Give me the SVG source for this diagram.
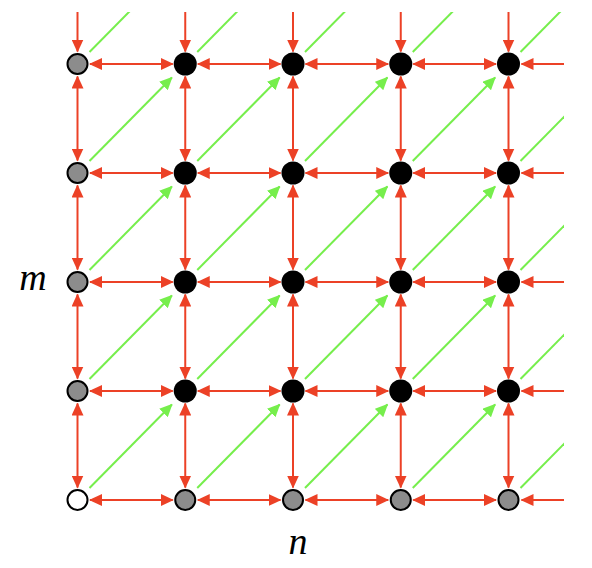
<svg xmlns="http://www.w3.org/2000/svg" width="592" height="568" viewBox="0 0 592 568">
<style>
.r{stroke:#ec4126;stroke-width:2;fill:none}
.d{marker-start:url(#ar);marker-end:url(#ar)}
.s{marker-end:url(#ar)}
.g{stroke:#76ee4c;stroke-width:2;fill:none;marker-end:url(#ag)}
.nb{fill:#000}
.ng{fill:#8c8c8c;stroke:#000;stroke-width:2}
.nw{fill:#fff;stroke:#000;stroke-width:2}
.lbl{font-family:"Liberation Serif","DejaVu Serif",serif;font-style:italic;font-size:38px;fill:#000}
</style>
<defs>
<marker id="ar" markerUnits="userSpaceOnUse" markerWidth="13" markerHeight="12" viewBox="0 0 13 12" refX="12" refY="6" orient="auto-start-reverse"><path d="M0,0 L13,6 L0,12 z" fill="#ec4126"/></marker>
<marker id="ag" markerUnits="userSpaceOnUse" markerWidth="13" markerHeight="12" viewBox="0 0 13 12" refX="12" refY="6" orient="auto"><path d="M0,0 L13,6 L0,12 z" fill="#76ee4c"/></marker>
<clipPath id="clip"><rect x="0" y="12" width="564" height="556"/></clipPath>
</defs>
<g id="connectors" clip-path="url(#clip)">
<g id="horizontal">
<line class="r d" x1="90" y1="64" x2="172.75" y2="64"/><line class="r d" x1="197.75" y1="64" x2="280.5" y2="64"/><line class="r d" x1="305.5" y1="64" x2="388.25" y2="64"/><line class="r d" x1="413.25" y1="64" x2="496" y2="64"/><line class="r s" x1="564" y1="64" x2="521.5" y2="64"/>
<line class="r d" x1="90" y1="173" x2="172.75" y2="173"/><line class="r d" x1="197.75" y1="173" x2="280.5" y2="173"/><line class="r d" x1="305.5" y1="173" x2="388.25" y2="173"/><line class="r d" x1="413.25" y1="173" x2="496" y2="173"/><line class="r s" x1="564" y1="173" x2="521.5" y2="173"/>
<line class="r d" x1="90" y1="282" x2="172.75" y2="282"/><line class="r d" x1="197.75" y1="282" x2="280.5" y2="282"/><line class="r d" x1="305.5" y1="282" x2="388.25" y2="282"/><line class="r d" x1="413.25" y1="282" x2="496" y2="282"/><line class="r s" x1="564" y1="282" x2="521.5" y2="282"/>
<line class="r d" x1="90" y1="391" x2="172.75" y2="391"/><line class="r d" x1="197.75" y1="391" x2="280.5" y2="391"/><line class="r d" x1="305.5" y1="391" x2="388.25" y2="391"/><line class="r d" x1="413.25" y1="391" x2="496" y2="391"/><line class="r s" x1="564" y1="391" x2="521.5" y2="391"/>
<line class="r d" x1="90" y1="500" x2="172.75" y2="500"/><line class="r d" x1="197.75" y1="500" x2="280.5" y2="500"/><line class="r d" x1="305.5" y1="500" x2="388.25" y2="500"/><line class="r d" x1="413.25" y1="500" x2="496" y2="500"/><line class="r s" x1="564" y1="500" x2="521.5" y2="500"/>
</g>
<g id="vertical">
<line class="r s" x1="77.5" y1="12" x2="77.5" y2="51.5"/><line class="r d" x1="77.5" y1="76.5" x2="77.5" y2="160.5"/><line class="r d" x1="77.5" y1="185.5" x2="77.5" y2="269.5"/><line class="r d" x1="77.5" y1="294.5" x2="77.5" y2="378.5"/><line class="r d" x1="77.5" y1="403.5" x2="77.5" y2="487.5"/>
<line class="r s" x1="185.25" y1="12" x2="185.25" y2="51.5"/><line class="r d" x1="185.25" y1="76.5" x2="185.25" y2="160.5"/><line class="r d" x1="185.25" y1="185.5" x2="185.25" y2="269.5"/><line class="r d" x1="185.25" y1="294.5" x2="185.25" y2="378.5"/><line class="r d" x1="185.25" y1="403.5" x2="185.25" y2="487.5"/>
<line class="r s" x1="293" y1="12" x2="293" y2="51.5"/><line class="r d" x1="293" y1="76.5" x2="293" y2="160.5"/><line class="r d" x1="293" y1="185.5" x2="293" y2="269.5"/><line class="r d" x1="293" y1="294.5" x2="293" y2="378.5"/><line class="r d" x1="293" y1="403.5" x2="293" y2="487.5"/>
<line class="r s" x1="400.75" y1="12" x2="400.75" y2="51.5"/><line class="r d" x1="400.75" y1="76.5" x2="400.75" y2="160.5"/><line class="r d" x1="400.75" y1="185.5" x2="400.75" y2="269.5"/><line class="r d" x1="400.75" y1="294.5" x2="400.75" y2="378.5"/><line class="r d" x1="400.75" y1="403.5" x2="400.75" y2="487.5"/>
<line class="r s" x1="508.5" y1="12" x2="508.5" y2="51.5"/><line class="r d" x1="508.5" y1="76.5" x2="508.5" y2="160.5"/><line class="r d" x1="508.5" y1="185.5" x2="508.5" y2="269.5"/><line class="r d" x1="508.5" y1="294.5" x2="508.5" y2="378.5"/><line class="r d" x1="508.5" y1="403.5" x2="508.5" y2="487.5"/>
</g>
<g id="diagonal">
<line class="g" x1="89.5" y1="52" x2="171.9" y2="-31.5"/><line class="g" x1="197.25" y1="52" x2="279.65" y2="-31.5"/><line class="g" x1="305" y1="52" x2="387.4" y2="-31.5"/><line class="g" x1="412.75" y1="52" x2="495.15" y2="-31.5"/><line class="g" x1="520.5" y1="52" x2="602.9" y2="-31.5"/>
<line class="g" x1="89.5" y1="161" x2="171.9" y2="77.5"/><line class="g" x1="197.25" y1="161" x2="279.65" y2="77.5"/><line class="g" x1="305" y1="161" x2="387.4" y2="77.5"/><line class="g" x1="412.75" y1="161" x2="495.15" y2="77.5"/><line class="g" x1="520.5" y1="161" x2="602.9" y2="77.5"/>
<line class="g" x1="89.5" y1="270" x2="171.9" y2="186.5"/><line class="g" x1="197.25" y1="270" x2="279.65" y2="186.5"/><line class="g" x1="305" y1="270" x2="387.4" y2="186.5"/><line class="g" x1="412.75" y1="270" x2="495.15" y2="186.5"/><line class="g" x1="520.5" y1="270" x2="602.9" y2="186.5"/>
<line class="g" x1="89.5" y1="379" x2="171.9" y2="295.5"/><line class="g" x1="197.25" y1="379" x2="279.65" y2="295.5"/><line class="g" x1="305" y1="379" x2="387.4" y2="295.5"/><line class="g" x1="412.75" y1="379" x2="495.15" y2="295.5"/><line class="g" x1="520.5" y1="379" x2="602.9" y2="295.5"/>
<line class="g" x1="89.5" y1="488" x2="171.9" y2="404.5"/><line class="g" x1="197.25" y1="488" x2="279.65" y2="404.5"/><line class="g" x1="305" y1="488" x2="387.4" y2="404.5"/><line class="g" x1="412.75" y1="488" x2="495.15" y2="404.5"/><line class="g" x1="520.5" y1="488" x2="602.9" y2="404.5"/>
</g>
</g>
<g id="nodes">
<g id="n0-0"><circle class="ng" cx="77.5" cy="64" r="10"/></g>
<g id="n1-0"><circle class="nb" cx="185.25" cy="64" r="11.5"/></g>
<g id="n2-0"><circle class="nb" cx="293" cy="64" r="11.5"/></g>
<g id="n3-0"><circle class="nb" cx="400.75" cy="64" r="11.5"/></g>
<g id="n4-0"><circle class="nb" cx="508.5" cy="64" r="11.5"/></g>
<g id="n0-1"><circle class="ng" cx="77.5" cy="173" r="10"/></g>
<g id="n1-1"><circle class="nb" cx="185.25" cy="173" r="11.5"/></g>
<g id="n2-1"><circle class="nb" cx="293" cy="173" r="11.5"/></g>
<g id="n3-1"><circle class="nb" cx="400.75" cy="173" r="11.5"/></g>
<g id="n4-1"><circle class="nb" cx="508.5" cy="173" r="11.5"/></g>
<g id="n0-2"><circle class="ng" cx="77.5" cy="282" r="10"/></g>
<g id="n1-2"><circle class="nb" cx="185.25" cy="282" r="11.5"/></g>
<g id="n2-2"><circle class="nb" cx="293" cy="282" r="11.5"/></g>
<g id="n3-2"><circle class="nb" cx="400.75" cy="282" r="11.5"/></g>
<g id="n4-2"><circle class="nb" cx="508.5" cy="282" r="11.5"/></g>
<g id="n0-3"><circle class="ng" cx="77.5" cy="391" r="10"/></g>
<g id="n1-3"><circle class="nb" cx="185.25" cy="391" r="11.5"/></g>
<g id="n2-3"><circle class="nb" cx="293" cy="391" r="11.5"/></g>
<g id="n3-3"><circle class="nb" cx="400.75" cy="391" r="11.5"/></g>
<g id="n4-3"><circle class="nb" cx="508.5" cy="391" r="11.5"/></g>
<g id="n0-4"><circle class="nw" cx="77.5" cy="500" r="10"/></g>
<g id="n1-4"><circle class="ng" cx="185.25" cy="500" r="10"/></g>
<g id="n2-4"><circle class="ng" cx="293" cy="500" r="10"/></g>
<g id="n3-4"><circle class="ng" cx="400.75" cy="500" r="10"/></g>
<g id="n4-4"><circle class="ng" cx="508.5" cy="500" r="10"/></g>
</g>
<g id="labels">
<text class="lbl" x="33" y="290" text-anchor="middle">m</text>
<text class="lbl" x="298" y="554" text-anchor="middle">n</text>
</g>
</svg>
